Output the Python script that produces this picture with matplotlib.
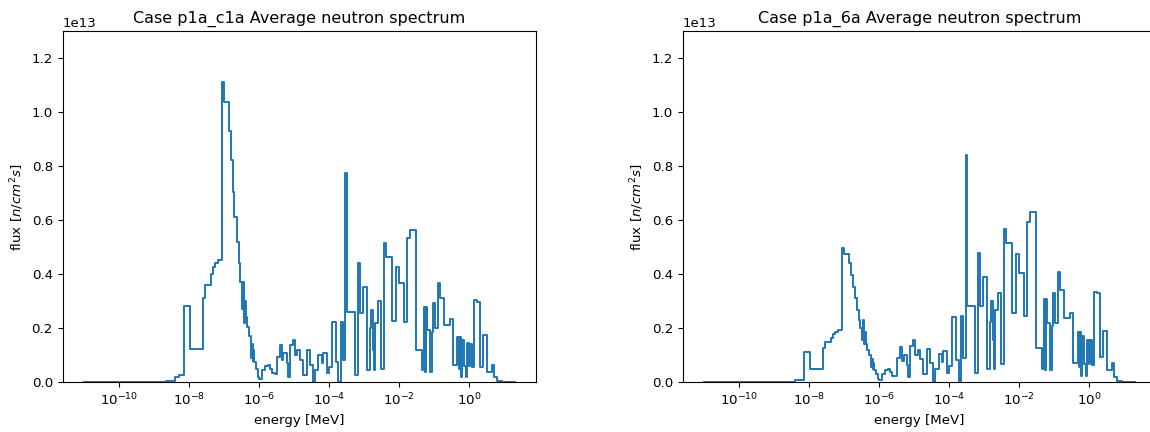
import numpy as np
import matplotlib
matplotlib.use("Agg")
import matplotlib.pyplot as plt
from matplotlib.ticker import NullLocator

plt.rcParams['font.size'] = 9.6

# group boundaries, log10 of energy in MeV (same group structure for both cases)
log_edges = [-11.0, -8.65, -8.41, -8.29, -8.14, -7.99, -7.62, -7.54, -7.39, -7.33,
             -7.26, -7.19, -7.07, -7.05, -7.03, -7.00, -6.87, -6.80, -6.76, -6.71,
             -6.65, -6.58, -6.54, -6.50, -6.47, -6.45, -6.42, -6.39, -6.35, -6.29,
             -6.25, -6.22, -6.19, -6.17, -6.14, -6.09, -6.05, -6.01, -5.92, -5.84,
             -5.75, -5.69, -5.64, -5.55, -5.50, -5.41, -5.36, -5.31, -5.22, -5.17,
             -5.12, -5.03, -4.98, -4.91, -4.84, -4.74, -4.65, -4.55, -4.46, -4.41,
             -4.31, -4.22, -4.17, -4.07, -4.00, -3.93, -3.81, -3.74, -3.67, -3.60,
             -3.54, -3.50, -3.27, -3.17, -3.12, -3.03, -2.93, -2.84, -2.81, -2.76,
             -2.72, -2.69, -2.62, -2.53, -2.44, -2.39, -2.22, -2.09, -2.00, -1.87,
             -1.77, -1.71, -1.52, -1.36, -1.33, -1.30, -1.27, -1.25, -1.20, -1.12,
             -1.07, -1.03, -0.98, -0.89, -0.84, -0.72, -0.55, -0.47, -0.34, -0.30,
             -0.27, -0.24, -0.20, -0.16, -0.11, -0.07, -0.02, 0.01, 0.07, 0.13,
             0.21, 0.29, 0.38, 0.50, 0.64, 0.71, 0.80, 0.93, 1.301]

# group flux in units of 1e13 n/cm2s
flux_c1a = [0.001, 0.006, 0.02, 0.027, 0.283, 0.124, 0.311, 0.36, 0.40, 0.428,
            0.443, 0.453, 1.11, 1.05, 1.11, 1.037, 0.932, 0.823, 0.706, 0.613,
            0.521, 0.44, 0.373, 0.27, 0.37, 0.22, 0.30, 0.24, 0.205, 0.17,
            0.09, 0.14, 0.08, 0.12, 0.075, 0.05, 0.02, 0.012, 0.045, 0.06,
            0.065, 0.05, 0.033, 0.03, 0.095, 0.138, 0.083, 0.108, 0.07, 0.02,
            0.138, 0.157, 0.1, 0.12, 0.083, 0.027, 0.118, 0.065, 0.002, 0.045,
            0.1, 0.07, 0.108, 0.033, 0.058, 0.225, 0.077, 0.003, 0.225, 0.083,
            0.774, 0.261, 0.027, 0.44, 0.255, 0.354, 0.045, 0.2, 0.268, 0.12,
            0.045, 0.218, 0.3, 0.05, 0.515, 0.465, 0.228, 0.428, 0.368, 0.225,
            0.536, 0.565, 0.118, 0.046, 0.11, 0.278, 0.04, 0.278, 0.194, 0.04,
            0.187, 0.293, 0.2, 0.369, 0.311, 0.212, 0.234, 0.064, 0.169, 0.05,
            0.169, 0.02, 0.155, 0.06, 0.02, 0.144, 0.06, 0.14, 0.058, 0.305,
            0.298, 0.058, 0.175, 0.04, 0.064, 0.018, 0.004, 0.002]

flux_6a = [0.0005, 0.001, 0.008, 0.008, 0.111, 0.049, 0.126, 0.15, 0.165, 0.178,
           0.186, 0.194, 0.496, 0.48, 0.496, 0.475, 0.44, 0.397, 0.354, 0.311,
           0.268, 0.231, 0.2, 0.157, 0.231, 0.14, 0.185, 0.14, 0.12, 0.1,
           0.055, 0.085, 0.05, 0.07, 0.045, 0.03, 0.012, 0.008, 0.03, 0.045,
           0.05, 0.04, 0.025, 0.025, 0.09, 0.13, 0.08, 0.1, 0.065, 0.02,
           0.135, 0.155, 0.1, 0.12, 0.085, 0.03, 0.125, 0.07, 0.003, 0.05,
           0.105, 0.075, 0.115, 0.035, 0.062, 0.24, 0.082, 0.004, 0.245, 0.09,
           0.842, 0.284, 0.033, 0.48, 0.283, 0.391, 0.048, 0.224, 0.30, 0.157,
           0.05, 0.268, 0.33, 0.068, 0.567, 0.515, 0.255, 0.475, 0.406, 0.246,
           0.595, 0.632, 0.126, 0.048, 0.12, 0.307, 0.045, 0.307, 0.22, 0.045,
           0.21, 0.33, 0.22, 0.41, 0.342, 0.237, 0.258, 0.073, 0.185, 0.055,
           0.185, 0.022, 0.17, 0.066, 0.022, 0.158, 0.066, 0.155, 0.064, 0.336,
           0.33, 0.095, 0.191, 0.045, 0.07, 0.02, 0.005, 0.002]

cases = ["p1a_c1a", "p1a_6a"]
fluxes = [flux_c1a, flux_6a]

energy = 10 ** np.array(log_edges)

fig = plt.figure(figsize=(11.5, 4.32), dpi=100)
positions = [[0.0545, 0.115, 0.412, 0.813], [0.5937, 0.115, 0.412, 0.813]]

for pos, case, flux in zip(positions, cases, fluxes):
    ax = fig.add_axes(pos)
    f = np.array(flux) * 1e13
    ax.step(energy, np.append(f, f[-1]), where='post', lw=1.4)
    ax.set_xscale('log')
    ax.xaxis.set_minor_locator(NullLocator())
    ax.set_ylim(0, 1.3e13)
    ax.set_xlabel('energy [MeV]')
    ax.set_ylabel('flux [$n/cm^2s$]')
    ax.set_title('Case ' + case + ' Average neutron spectrum')

fig.savefig('out.png', dpi=100)
